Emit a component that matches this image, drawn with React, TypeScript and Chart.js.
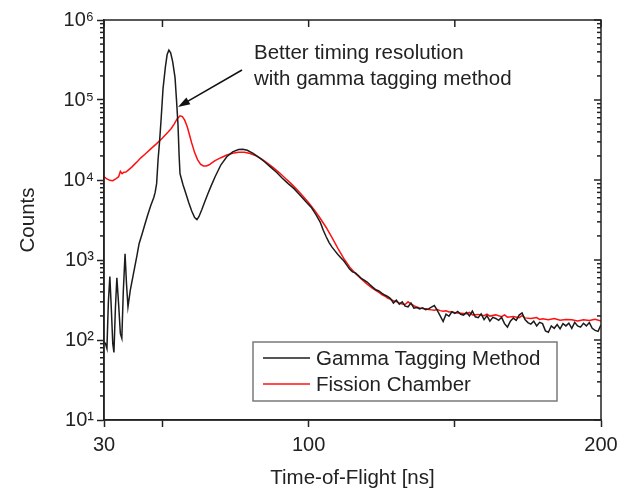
import React, { useEffect, useRef } from 'react';
import { Chart, registerables } from 'chart.js';

Chart.register(...registerables);

// ---------- data ----------
const gammaX = [
  30, 30.5, 31, 31.5, 32, 32.5, 33, 33.4, 33.9, 34.4, 35, 35.6, 36.1, 36.6, 37.2, 37.7, 38.2, 39, 40, 41.3,
  42, 43, 44, 45, 46, 47, 47.5, 48, 48.5, 49, 49.5, 50.2, 51, 51.6, 52.2, 52.8, 53.5, 54.3, 54.8, 55.3,
  55.7, 56, 57, 58, 59, 60, 61, 61.8, 62.5, 63.5, 64.5, 65.5, 66.5, 68, 70, 72, 74, 76, 77.5, 79,
  81, 83, 85, 87, 89, 91, 93, 95, 97, 99, 101, 102.5, 104, 105, 106, 107, 108, 109, 110, 111,
  112, 113, 114, 115, 116, 117, 118, 119, 120, 121, 122, 123, 124, 125, 126, 127, 128, 129, 130, 131,
  132, 133, 134, 135, 136, 137, 138, 139, 140, 141, 142, 143, 144, 145, 146, 147, 148, 149, 150, 151,
  152, 153, 154, 155, 156, 157, 158, 159, 160, 161, 162, 163, 164, 165, 166, 167, 168, 169, 170, 171,
  172, 173, 174, 175, 176, 177, 178, 179, 180, 181, 182, 183, 184, 185, 186, 187, 188, 189, 190, 191,
  192, 193, 194, 195, 196, 197, 198, 199, 200,
];
const gammaY = [
  95, 90, 78, 300, 620, 250, 90, 70, 250, 600, 280, 120, 105, 400, 1200, 500, 260, 420, 650, 1150,
  1600, 2100, 2800, 3700, 4800, 6000, 7000, 9000, 18000, 30000, 55000, 140000, 260000, 370000, 420000, 390000, 300000, 190000, 100000, 50000,
  20000, 12000, 8800, 6800, 5200, 4100, 3400, 3200, 3500, 4300, 5400, 6700, 8200, 11000, 15500, 19500, 22500, 24000, 24300, 23500,
  21500, 19200, 16800, 14500, 12500, 10500, 9000, 7800, 6500, 5400, 4500, 3700, 2950, 2350, 1950, 1650, 1450, 1300, 1170, 1070,
  980, 870, 770, 710, 690, 640, 590, 560, 530, 490, 455, 425, 410, 385, 365, 350, 330, 290, 315, 280,
  300, 265, 260, 290, 250, 255, 245, 252, 240, 245, 258, 270, 235, 200, 170, 210, 198, 225, 215, 228,
  210, 205, 222, 200, 230, 195, 190, 212, 180, 202, 172, 192, 186, 176, 192, 160, 145, 172, 188, 176,
  205, 218, 180, 165, 158, 172, 150, 166, 160, 130, 125, 150, 140, 156, 138, 160, 150, 162, 140, 166,
  150, 145, 162, 150, 165, 140, 132, 128, 155,
];
const fissionX = [
  30, 31, 32, 33, 34, 35, 35.6, 36.2, 36.8, 37.5, 38.5, 39.5, 40.5, 41.5, 42.5, 44, 46, 48, 50, 52,
  53, 54, 55, 56, 56.8, 57.6, 58.5, 59.3, 60, 61, 62, 63, 64, 65, 66, 67, 68, 70, 72, 74,
  76, 78, 80, 82, 84, 86, 88, 90, 92, 94, 96, 98, 100, 102, 104, 106, 108, 110, 112, 114,
  116, 118, 120, 122, 124, 125, 126, 127, 128, 129, 130, 131, 132, 133, 134, 135, 136, 137, 138, 139,
  140, 141, 142, 143, 144, 145, 146, 147, 148, 149, 150, 152, 154, 155, 156, 158, 160, 161, 162, 164,
  166, 167, 168, 170, 172, 173, 174, 176, 178, 179, 180, 182, 184, 186, 188, 190, 192, 194, 196, 198, 200,
];
const fissionY = [
  11000, 10300, 9900, 9800, 10300, 11000, 12800, 12000, 12500, 12600, 13500, 14500, 15800, 17200, 18800, 21000, 24500, 28500, 33500, 40000,
  44000, 50000, 58000, 63500, 62000, 56000, 46000, 36000, 29000, 22000, 18000, 15800, 15000, 15000, 15500, 16500, 17500, 19000, 20500, 21600,
  22200, 22200, 21400, 20000, 18200, 16200, 14200, 12300, 10500, 9000, 7600, 6300, 5200, 4200, 3300, 2550, 1900, 1400, 1050, 820,
  680, 580, 500, 440, 395, 370, 355, 335, 322, 310, 302, 290, 282, 278, 300, 282, 268, 258, 252, 248,
  246, 240, 238, 236, 241, 233, 229, 232, 224, 226, 219, 216, 213, 221, 206, 209, 201, 211, 199, 206,
  196, 206, 193, 196, 190, 201, 189, 186, 191, 181, 184, 179, 186, 177, 181, 179, 173, 179, 175, 181, 173,
];

const seriesNames = ['Gamma Tagging Method', 'Fission Chamber'];
const seriesColors = ['#1c1c1c', '#ff1010'];

const xTickValues = [30, 50, 100, 150, 200];
const xTickLabels = ['30', '', '100', '', '200'];
const yTickValues = [10, 100, 1000, 10000, 100000, 1000000];
const yTickLabels = ['10¹', '10²', '10³', '10⁴', '10⁵', '10⁶'];

const xTitle = 'Time-of-Flight [ns]';
const yTitle = 'Counts';
const annotationLines = ['Better timing resolution', 'with gamma tagging method'];
const arrowTail = { x: 77.2, y: 237000 };
const arrowTip = { x: 55.3, y: 82000 };

const FONT = "'Liberation Sans', Arial, sans-serif";
const INK = '#222222';

const framePlugin = {
  id: 'frameTicks',
  afterDatasetsDraw(chart: any) {
    const { ctx, chartArea: a, scales } = chart;
    const x = scales.x;
    const y = scales.y;
    ctx.save();
    ctx.strokeStyle = INK;
    ctx.lineWidth = 1.5;
    const seg = (x1: number, y1: number, x2: number, y2: number) => {
      ctx.beginPath();
      ctx.moveTo(x1, y1);
      ctx.lineTo(x2, y2);
      ctx.stroke();
    };
    ctx.strokeRect(a.left, a.top, a.right - a.left, a.bottom - a.top);
    for (let e = 1; e < 6; e++) {
      for (let m = 2; m <= 9; m++) {
        const py = y.getPixelForValue(m * Math.pow(10, e));
        seg(a.left - 4, py, a.left, py);
        seg(a.right - 4, py, a.right, py);
      }
    }
    yTickValues.forEach((v) => {
      const py = y.getPixelForValue(v);
      seg(a.right - 7, py, a.right, py);
    });
    xTickValues.forEach((v) => {
      const px = x.getPixelForValue(v);
      seg(px, a.top, px, a.top + 7);
    });
    ctx.restore();
  },
};

const overlayPlugin = {
  id: 'overlay',
  afterDraw(chart: any) {
    const { ctx, chartArea: a, scales } = chart;
    const x = scales.x;
    const y = scales.y;
    ctx.save();
    const lx = a.left + 149;
    const ly = a.top + 322;
    const lw = 304;
    const lh = 59;
    ctx.fillStyle = '#ffffff';
    ctx.fillRect(lx, ly, lw, lh);
    ctx.strokeStyle = '#7a7a7a';
    ctx.lineWidth = 1.5;
    ctx.strokeRect(lx, ly, lw, lh);
    ctx.font = `20.5px ${FONT}`;
    ctx.textBaseline = 'middle';
    ctx.textAlign = 'left';
    chart.data.datasets.forEach((ds: any, i: number) => {
      const cy = ly + 16 + i * 26;
      ctx.strokeStyle = ds.borderColor;
      ctx.lineWidth = 1.5;
      ctx.beginPath();
      ctx.moveTo(lx + 10, cy);
      ctx.lineTo(lx + 57, cy);
      ctx.stroke();
      ctx.fillStyle = INK;
      ctx.fillText(ds.label, lx + 63, cy + 1);
    });
    ctx.fillStyle = INK;
    ctx.font = `20.5px ${FONT}`;
    annotationLines.forEach((t, i) => {
      ctx.fillText(t, a.left + 150, a.top + 33 + i * 26);
    });
    const x1 = x.getPixelForValue(arrowTail.x);
    const y1 = y.getPixelForValue(arrowTail.y);
    const x2 = x.getPixelForValue(arrowTip.x);
    const y2 = y.getPixelForValue(arrowTip.y);
    const ang = Math.atan2(y2 - y1, x2 - x1);
    const hl = 12;
    const hw = 4;
    ctx.strokeStyle = '#111';
    ctx.lineWidth = 1.5;
    ctx.beginPath();
    ctx.moveTo(x1, y1);
    ctx.lineTo(x2 - Math.cos(ang) * hl * 0.8, y2 - Math.sin(ang) * hl * 0.8);
    ctx.stroke();
    ctx.fillStyle = '#111';
    ctx.beginPath();
    ctx.moveTo(x2, y2);
    ctx.lineTo(
      x2 - Math.cos(ang) * hl - Math.sin(ang) * hw,
      y2 - Math.sin(ang) * hl + Math.cos(ang) * hw
    );
    ctx.lineTo(
      x2 - Math.cos(ang) * hl + Math.sin(ang) * hw,
      y2 - Math.sin(ang) * hl - Math.cos(ang) * hw
    );
    ctx.closePath();
    ctx.fill();
    ctx.restore();
  },
};

export default function App() {
  const canvasRef = useRef<HTMLCanvasElement | null>(null);

  useEffect(() => {
    if (!canvasRef.current) return;
    Chart.defaults.font.family = FONT;
    const makePoints = (xs: number[], ys: number[]) => xs.map((v, i) => ({ x: v, y: ys[i] }));
    const chart = new Chart(canvasRef.current, {
      type: 'line',
      data: {
        datasets: [
          {
            label: seriesNames[0],
            data: makePoints(gammaX, gammaY),
            borderColor: seriesColors[0],
            borderWidth: 1.5,
            pointRadius: 0,
            tension: 0,
            fill: false,
          },
          {
            label: seriesNames[1],
            data: makePoints(fissionX, fissionY),
            borderColor: seriesColors[1],
            borderWidth: 1.5,
            pointRadius: 0,
            tension: 0,
            fill: false,
          },
        ],
      },
      options: {
        animation: false,
        responsive: false,
        devicePixelRatio: 1,
        layout: { padding: { left: 0, top: 20, right: 28, bottom: 0 } },
        plugins: {
          legend: { display: false },
          tooltip: { enabled: false },
        },
        scales: {
          x: {
            type: 'linear',
            min: 30,
            max: 200,
            afterBuildTicks: (scale: any) => {
              scale.ticks = xTickValues.map((v) => ({ value: v }));
            },
            afterFit: (scale: any) => {
              scale.height = 69;
            },
            ticks: {
              autoSkip: false,
              maxRotation: 0,
              padding: 6,
              color: INK,
              font: { size: 20, family: FONT },
              callback: (v: any) => {
                const i = xTickValues.indexOf(Number(v));
                return i >= 0 ? xTickLabels[i] : '';
              },
            },
            grid: {
              display: true,
              drawOnChartArea: false,
              drawTicks: true,
              tickLength: 7,
              tickColor: INK,
              tickWidth: 1.5,
            },
            border: { display: true, color: INK, width: 1.5 },
            title: {
              display: true,
              text: xTitle,
              color: INK,
              font: { size: 20.5, family: FONT },
              padding: { top: 0, bottom: -2 },
            },
          },
          y: {
            type: 'logarithmic',
            min: 10,
            max: 1000000,
            afterBuildTicks: (scale: any) => {
              scale.ticks = yTickValues.map((v) => ({ value: v }));
            },
            afterFit: (scale: any) => {
              scale.width = 104;
            },
            ticks: {
              autoSkip: false,
              padding: 3,
              color: INK,
              font: { size: 20, family: FONT },
              callback: (v: any) => {
                const i = yTickValues.indexOf(Number(v));
                return i >= 0 ? yTickLabels[i] : '';
              },
            },
            grid: {
              display: true,
              drawOnChartArea: false,
              drawTicks: true,
              tickLength: 7,
              tickColor: INK,
              tickWidth: 1.5,
            },
            border: { display: true, color: INK, width: 1.5 },
            title: {
              display: true,
              text: yTitle,
              color: INK,
              font: { size: 20.5, family: FONT },
              padding: { top: 16, bottom: 0 },
            },
          },
        },
      },
      plugins: [framePlugin, overlayPlugin],
    });
    return () => chart.destroy();
  }, []);

  return (
    <div style={{ position: 'absolute', left: 0, top: 0, width: 629, height: 489, background: '#fff' }}>
      <canvas ref={canvasRef} width={629} height={489} style={{ display: 'block' }} />
    </div>
  );
}
